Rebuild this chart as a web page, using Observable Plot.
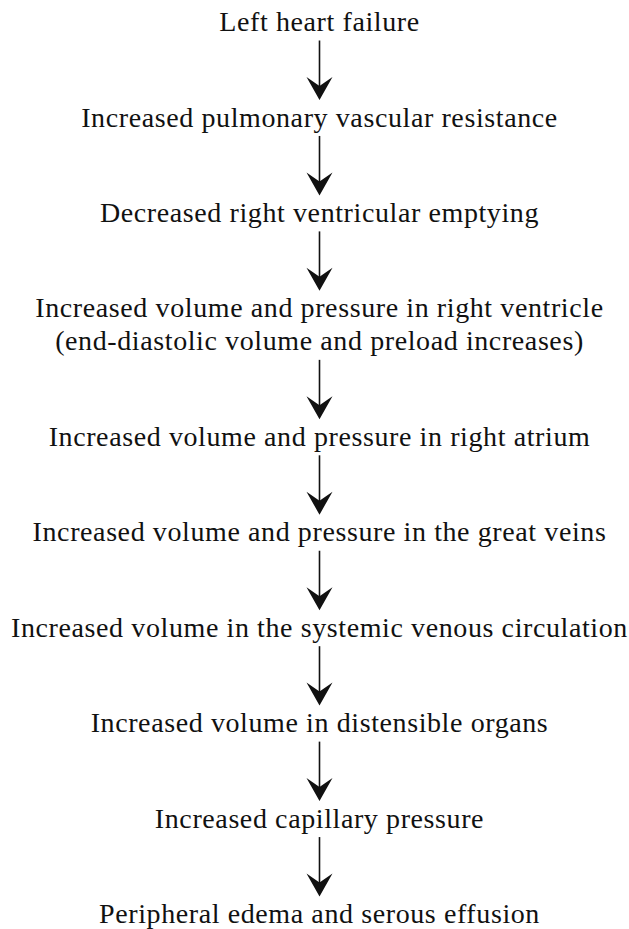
<!DOCTYPE html>
<html><head><meta charset="utf-8">
<script src="https://cdn.jsdelivr.net/npm/d3@7"></script>
<script src="https://cdn.jsdelivr.net/npm/@observablehq/plot@0.6"></script>
<style>body{margin:0;background:#fff}</style>
</head><body><div id="chart"></div>
<script>
const steps = [
  "Left heart failure",
  "Increased pulmonary vascular resistance",
  "Decreased right ventricular emptying",
  "Increased volume and pressure in right ventricle\n(end-diastolic volume and preload increases)",
  "Increased volume and pressure in right atrium",
  "Increased volume and pressure in the great veins",
  "Increased volume in the systemic venous circulation",
  "Increased volume in distensible organs",
  "Increased capillary pressure",
  "Peripheral edema and serous effusion"
];
const lane = "main";

// layout units (px-like) used only to build the y positions fed to the y scale
const lineUnit = 33, gapUnit = 62.4;
const nodes = [];
let acc = 0, prevN = 0;
steps.forEach((label, i) => {
  const n = label.split("\n").length;
  if (i > 0) acc += (prevN / 2) * lineUnit + gapUnit + (n / 2) * lineUnit;
  nodes.push({label, n, y: acc, lane});
  prevN = n;
});
const arrows = d3.pairs(nodes).map(([a, b]) => {
  const from = a.y + (a.n - 1) * lineUnit / 2 + 20;
  const tip = b.y - (b.n - 1) * lineUnit / 2 - 16;
  return {lane, from, tip, shaftEnd: tip - 12};
});

const arrowHead = {
  draw(context) {
    context.moveTo(0, 0);
    context.lineTo(-13, -23);
    context.lineTo(0, -14);
    context.lineTo(13, -23);
    context.closePath();
  }
};

const chart = Plot.plot({
  width: 629,
  height: 929,
  marginTop: 20,
  marginBottom: 17,
  marginLeft: 9,
  marginRight: 0,
  style: {background: "#fff", letterSpacing: "0.6px"},
  x: {type: "point", domain: [lane], axis: null},
  y: {domain: [0, acc], reverse: true, axis: null},
  marks: [
    Plot.link(arrows, {x1: "lane", x2: "lane", y1: "from", y2: "shaftEnd", stroke: "#111", strokeWidth: 1.6}),
    Plot.dot(arrows, {x: "lane", y: "tip", symbol: arrowHead, r: 13, fill: "#111", stroke: "none"}),
    Plot.text(nodes, {x: "lane", y: "y", text: "label", fontSize: 28, fontFamily: "Liberation Serif", lineHeight: 1.18, fill: "#111"})
  ]
});
document.getElementById("chart").appendChild(chart);
</script>
</body></html>
